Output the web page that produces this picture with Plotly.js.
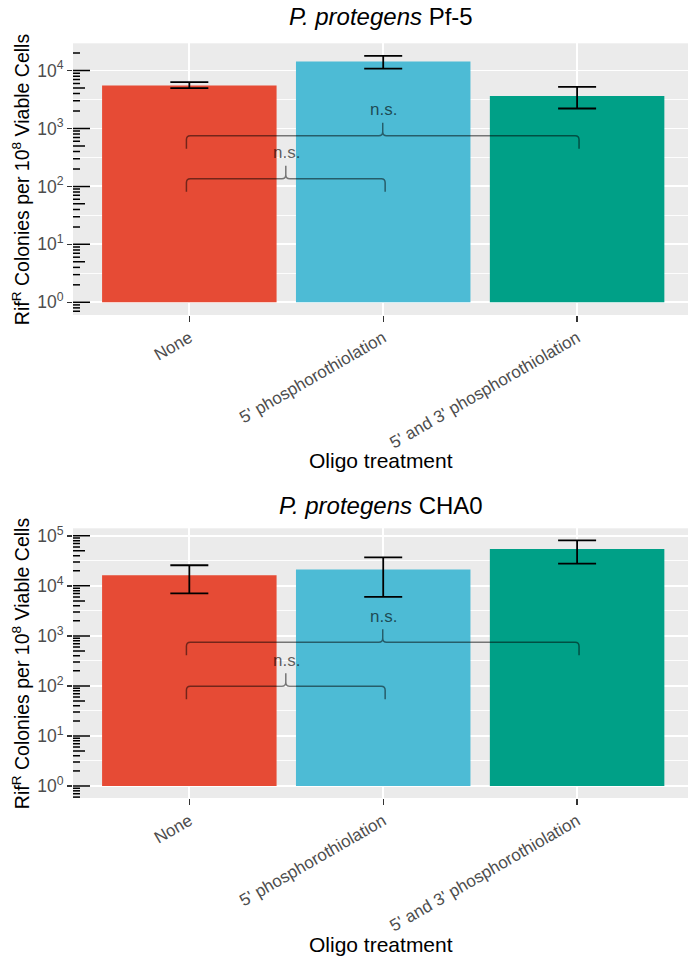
<!DOCTYPE html>
<html><head><meta charset="utf-8">
<script src="https://cdn.plot.ly/plotly-3.0.1.min.js"></script>
<style>html,body{margin:0;padding:0;background:#fff;} #chart{width:688px;height:959px;}</style>
</head><body><div id="chart"></div>
<script>
// ---------- data ----------
const categories = ["None", "5' phosphorothiolation", "5' and 3' phosphorothiolation"];
const barColors = ["#E64B35", "#4DBBD5", "#00A087"];
const panelTitles = ["<i>P. protegens</i> Pf-5", "<i>P. protegens</i> CHA0"];

const pf5Mean  = [5510, 14300, 3650];
const pf5Upper = [6290, 17850, 5210];
const pf5Lower = [4950, 10820, 2210];

const cha0Mean  = [16300, 21100, 54600];
const cha0Upper = [25800, 37200, 81300];
const cha0Lower = [7100, 6000, 27900];

const barBase = 1;

const yTickVals = [1, 10, 100, 1000, 10000, 100000];
const yTickText = ["10<sup>0</sup>", "10<sup>1</sup>", "10<sup>2</sup>", "10<sup>3</sup>", "10<sup>4</sup>", "10<sup>5</sup>"];

const sigPairs = [[0, 1], [0, 2]];
const sigLabels = ["n.s.", "n.s."];
const pf5BracketY = [135, 745];
const cha0BracketY = [99, 748];

const yTitle = "Rif<sup>R</sup> Colonies per 10<sup>8</sup> Viable Cells";
const xTitle = "Oligo treatment";

// ---------- layout constants ----------
const W = 688, H = 959;
const font = "Liberation Sans, Arial, Helvetica, sans-serif";
const xDomain = [73 / W, 1];
const panels = [
  { mean: pf5Mean, up: pf5Upper, lo: pf5Lower, bracket: pf5BracketY, top: 43.3, bottom: 315, range: [-0.22, 4.47], xa: 'x', ya: 'y', titleY: 17, xTitleY: 461 },
  { mean: cha0Mean, up: cha0Upper, lo: cha0Lower, bracket: cha0BracketY, top: 528.3, bottom: 798, range: [-0.24, 5.15], xa: 'x2', ya: 'y2', titleY: 505, xTitleY: 944 }
];

// minor grid (half decades) and annotation log-tick positions
const halfDecades = [], shortTicks = [], midTicks = [], longTicks = [];
for (let k = -1; k <= 5; k++) {
  halfDecades.push(Math.pow(10, k + 0.5));
  longTicks.push(Math.pow(10, k));
  for (let m = 2; m <= 9; m++) {
    if (m === 5) midTicks.push(m * Math.pow(10, k));
    else shortTicks.push(m * Math.pow(10, k));
  }
}

const traces = [];
const layout = {
  width: W, height: H,
  margin: { l: 0, r: 0, t: 0, b: 0 },
  paper_bgcolor: '#fff',
  plot_bgcolor: '#EBEBEB',
  showlegend: false,
  bargap: 0.1,
  font: { family: font, color: '#000' },
  shapes: [],
  annotations: []
};

panels.forEach((p, pi) => {
  const xKey = pi === 0 ? 'xaxis' : 'xaxis2';
  const yKey = pi === 0 ? 'yaxis' : 'yaxis2';
  const yDom = [1 - p.bottom / H, 1 - p.top / H];

  traces.push({
    type: 'bar',
    x: categories,
    y: p.mean.map(v => v - barBase),
    base: p.mean.map(() => barBase),
    marker: { color: barColors, line: { width: 0 } },
    xaxis: p.xa, yaxis: p.ya,
    hoverinfo: 'skip',
    error_y: {
      type: 'data', symmetric: false,
      array: p.up.map((u, i) => u - p.mean[i]),
      arrayminus: p.lo.map((l, i) => p.mean[i] - l),
      color: '#000', thickness: 1.8, width: 19
    }
  });

  layout[xKey] = {
    domain: xDomain, anchor: p.ya, type: 'category',
    range: [-0.6, 2.572], automargin: false,
    showgrid: true, gridcolor: '#fff', gridwidth: 1.8,
    ticks: 'outside', ticklen: 5.5, tickwidth: 1.4, tickcolor: '#333',
    tickangle: -30,
    tickfont: { family: font, size: 17, color: '#4D4D4D' },
    showline: false, zeroline: false, fixedrange: true
  };
  layout[yKey] = {
    domain: yDom, anchor: p.xa, type: 'log', range: p.range, automargin: false,
    tickmode: 'array', tickvals: yTickVals, ticktext: yTickText,
    tickfont: { family: font, size: 17.5, color: '#4D4D4D' },
    ticks: 'outside', ticklen: 5, tickwidth: 1.4, tickcolor: '#333',
    showgrid: true, gridcolor: '#fff', gridwidth: 1.8,
    minor: { tickmode: 'array', tickvals: halfDecades, showgrid: true, gridcolor: '#fff', gridwidth: 0.9, ticks: '' },
    showline: false, zeroline: false, fixedrange: true
  };

  // annotation log ticks along the left edge inside the panel
  const inRange = v => Math.log10(v) >= p.range[0] && Math.log10(v) <= p.range[1];
  [[longTicks, 17], [midTicks, 12], [shortTicks, 7]].forEach(([vals, len]) => {
    vals.filter(inRange).forEach(v => {
      layout.shapes.push({
        type: 'line', layer: 'above',
        xref: p.xa + ' domain', xsizemode: 'pixel', xanchor: 0, x0: 0, x1: len,
        yref: p.ya, y0: v, y1: v,
        line: { color: '#000', width: 1.5 }
      });
    });
  });

  // significance brackets
  sigPairs.forEach((pair, si) => {
    const xa = pair[0] - 0.015, xb = pair[1] + 0.01, xm = (xa + xb) / 2, r = 0.02;
    layout.shapes.push({
      type: 'path', layer: 'above', xref: p.xa, yref: p.ya, ysizemode: 'pixel', yanchor: p.bracket[si],
      path: `M ${xa},-13 L ${xa},-4 Q ${xa},0 ${xa + r},0 L ${xm - r},0 Q ${xm},0 ${xm},4 L ${xm},13 M ${xm},4 Q ${xm},0 ${xm + r},0 L ${xb - r},0 Q ${xb},0 ${xb},-4 L ${xb},-13`,
      line: { color: 'rgba(0,0,0,0.5)', width: 1.5 }
    });
    layout.annotations.push({
      xref: p.xa, yref: p.ya, x: (pair[0] + pair[1]) / 2, y: Math.log10(p.bracket[si]),
      yshift: 26, text: sigLabels[si], showarrow: false, xanchor: 'center', yanchor: 'middle',
      font: { family: font, size: 17, color: 'rgba(0,0,0,0.62)' }
    });
  });

  // panel title
  layout.annotations.push({
    xref: 'paper', yref: 'paper', x: (73 + W) / 2 / W, y: 1 - p.titleY / H,
    text: panelTitles[pi], showarrow: false, xanchor: 'center', yanchor: 'middle',
    font: { family: font, size: 24, color: '#000' }
  });
  // y title
  layout.annotations.push({
    xref: 'paper', yref: 'paper', x: 21 / W, y: 1 - ((p.top + p.bottom) / 2) / H,
    text: yTitle, showarrow: false, textangle: -90, xanchor: 'center', yanchor: 'middle',
    font: { family: font, size: 19.5, color: '#000' }
  });
  // x title
  layout.annotations.push({
    xref: 'paper', yref: 'paper', x: (73 + W) / 2 / W, y: 1 - p.xTitleY / H,
    text: xTitle, showarrow: false, xanchor: 'center', yanchor: 'middle',
    font: { family: font, size: 21, color: '#000' }
  });
});

Plotly.newPlot('chart', traces, layout, { staticPlot: true, displayModeBar: false });
</script>
</body></html>
